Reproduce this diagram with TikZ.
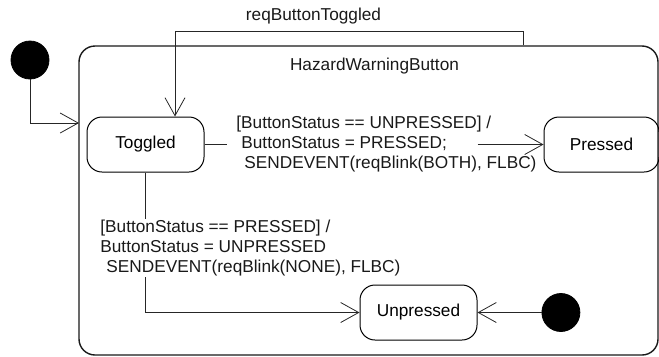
\documentclass[tikz,border=0pt]{standalone}
\usepackage{fontspec}
\setmainfont{Liberation Sans}
\usetikzlibrary{positioning,arrows.meta}

\begin{document}
\begin{tikzpicture} [
	x=1bp,y=-1bp,
	text centered,
	font=\fontsize{17.3}{19.8}\selectfont,
	line width=0.8bp,
	nstate/.style={
		rectangle,rounded corners=15bp,draw=black,line width=1bp,
		minimum width=117bp,minimum height=55bp,inner sep=0pt
	},
	ncomposite/.style={
		rectangle,rounded corners=16bp,draw=black!90,line width=1.4bp,
		minimum width=579bp,minimum height=309bp
	},
	ninit/.style={
		circle,fill=black,draw=black,minimum size=38bp,inner sep=0pt
	},
	nlabel/.style={
		align=left,inner sep=1bp,text=black!90
	},
	ntrans/.style={
		draw=black!85,-{Straight Barb[length=18bp,width=20bp]}
	}
]
\useasboundingbox (0,0) rectangle (659,356);
\node [ncomposite]	(hazard)	at (368.5,200.5)	{};
\node [nlabel]	(hazardname)	at (374.5,66)	{HazardWarningButton};
\node [nstate]	(toggled)	at (145.5,144.5)	{Toggled};
\node [nstate,minimum width=115bp]	(pressed)[right=339bp of toggled]	{Pressed};
\node [nstate]	(unpressed)	at (418.5,312.5)	{Unpressed};
\node [ninit]	(start)	at (30,60)	{};
\node [ninit]	(unpressedinit)[right=64bp of unpressed]	{}
	edge [ntrans]	(unpressed);
\coordinate	(hazentry)	at (79,123);
\coordinate	(rbtcorner)	at (523,31);

% entering the composite state
\draw [ntrans] (start) |- (hazentry);

% reqButtonToggled
\draw [ntrans] (rbtcorner |- hazard.north) -- (rbtcorner) -| ([xshift=29.5bp]toggled.north);
\node [nlabel]	(rbtlabel)	at (313.5,16)	{reqButtonToggled};

% toggled -> pressed
\node [nlabel,anchor=west]	(guardpressed)	at (235,144)
	{[ButtonStatus == UNPRESSED] /\\\hspace{5bp}ButtonStatus = PRESSED;\\\hspace{8bp}SENDEVENT(reqBlink(BOTH), FLBC)};
\draw [draw=black!85] (toggled.east) -- ++(22,0);
\draw [ntrans] ([xshift=-66bp]pressed.west) -- (pressed);

% toggled -> unpressed
\draw [ntrans] (toggled) |- (unpressed);
\node [nlabel,anchor=west,fill=white]	(guardunpressed)	at (99,248)
	{[ButtonStatus == PRESSED] /\\ButtonStatus = UNPRESSED\\\hspace{6bp}SENDEVENT(reqBlink(NONE), FLBC)};
\end{tikzpicture}
\end{document}
